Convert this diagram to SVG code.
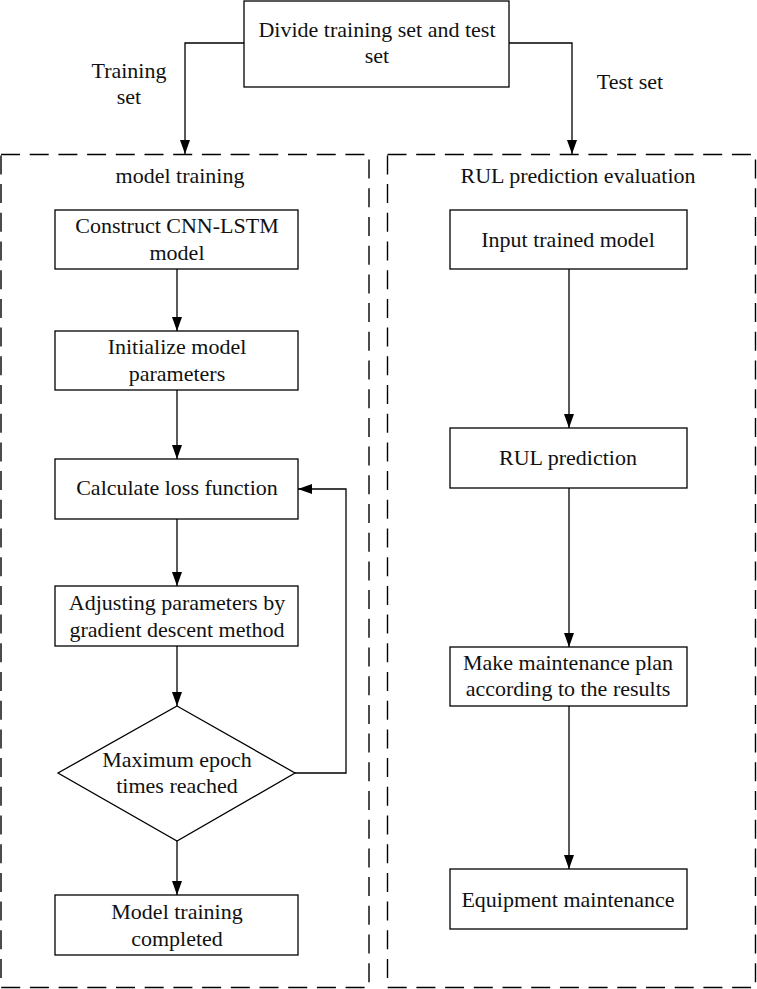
<svg xmlns="http://www.w3.org/2000/svg" width="757" height="989" viewBox="0 0 757 989">
<defs>
<marker id="ah" markerWidth="14" markerHeight="10" refX="14" refY="5" viewBox="0 0 14 10" markerUnits="userSpaceOnUse" orient="auto">
<path d="M0,0 L14,5 L0,10 Z" fill="#000"/>
</marker>
<style>
text{font-family:"Liberation Serif","Times New Roman",serif;font-size:22px;fill:#111;text-anchor:middle}
.box{fill:#fff;stroke:#000;stroke-width:1.3}
.panel{fill:none;stroke:#000;stroke-width:1.4;stroke-dasharray:19 9.7}
.con{fill:none;stroke:#000;stroke-width:1.3}
.arr{marker-end:url(#ah)}
</style>
</defs>
<rect width="757" height="989" fill="#fff"/>
<g id="panels">
<rect class="panel" x="1" y="154.5" width="368" height="833"/>
<rect class="panel" x="387.5" y="154.5" width="368" height="833"/>
<text x="180" y="183">model training</text>
<text x="578" y="183">RUL prediction evaluation</text>
</g>
<g id="connectors">
<path class="con arr" d="M244,43 H185 V154"/>
<path class="con arr" d="M509,43 H572 V154"/>
<path class="con arr" d="M177,269 V331"/>
<path class="con arr" d="M177,390 V459"/>
<path class="con arr" d="M177,519 V586"/>
<path class="con arr" d="M177,646 V706"/>
<path class="con arr" d="M177,841 V895"/>
<path class="con arr" d="M295,773 H346 V489 H298"/>
<path class="con arr" d="M569,269 V428"/>
<path class="con arr" d="M569,488 V647"/>
<path class="con arr" d="M569,706 V869"/>
<text x="129" y="78">Training</text>
<text x="129" y="104">set</text>
<text x="630" y="89">Test set</text>
</g>
<g id="divide">
<rect class="box" x="244" y="1" width="265" height="86"/>
<text x="377" y="37">Divide training set and test</text>
<text x="377" y="63">set</text>
</g>
<g id="construct">
<rect class="box" x="55" y="210" width="243" height="59"/>
<text x="177" y="233">Construct CNN-LSTM</text>
<text x="177" y="260">model</text>
</g>
<g id="initialize">
<rect class="box" x="55" y="331" width="243" height="59"/>
<text x="177" y="354">Initialize model</text>
<text x="177" y="381">parameters</text>
</g>
<g id="loss">
<rect class="box" x="55" y="459" width="243" height="60"/>
<text x="177" y="495">Calculate loss function</text>
</g>
<g id="adjust">
<rect class="box" x="55" y="586" width="243" height="60"/>
<text x="177" y="610">Adjusting parameters by</text>
<text x="177" y="637">gradient descent method</text>
</g>
<g id="epoch">
<polygon class="box" points="177,706 295,773 177,841 58,773"/>
<text x="177" y="767">Maximum epoch</text>
<text x="177" y="793">times reached</text>
</g>
<g id="completed">
<rect class="box" x="55" y="895" width="243" height="60"/>
<text x="177" y="919">Model training</text>
<text x="177" y="946">completed</text>
</g>
<g id="input">
<rect class="box" x="450" y="210" width="237" height="59"/>
<text x="568" y="247">Input trained model</text>
</g>
<g id="rul">
<rect class="box" x="450" y="428" width="237" height="60"/>
<text x="568" y="465">RUL prediction</text>
</g>
<g id="plan">
<rect class="box" x="450" y="647" width="237" height="59"/>
<text x="568" y="670">Make maintenance plan</text>
<text x="568" y="696">according to the results</text>
</g>
<g id="equipment">
<rect class="box" x="450" y="869" width="237" height="60"/>
<text x="568" y="907">Equipment maintenance</text>
</g>
</svg>
